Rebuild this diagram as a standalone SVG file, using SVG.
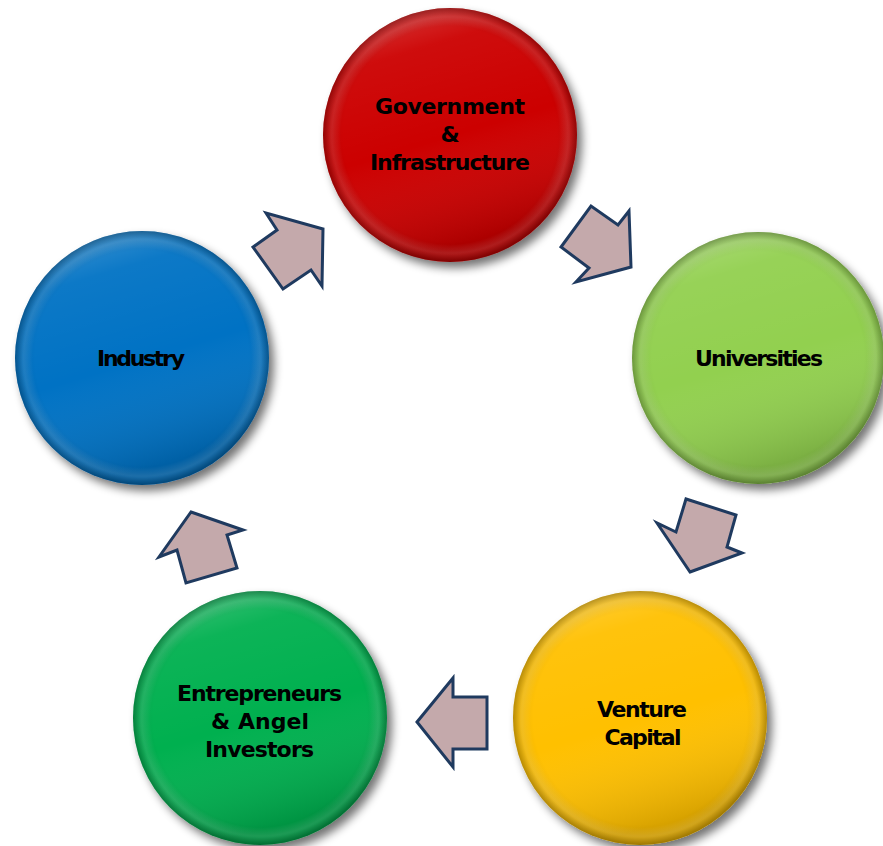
<svg xmlns="http://www.w3.org/2000/svg" width="883" height="846" viewBox="0 0 883 846">
<defs>
<filter id="sh" x="-20%" y="-20%" width="150%" height="150%">
<feGaussianBlur in="SourceAlpha" stdDeviation="5"/>
<feOffset dx="5" dy="6" result="b"/>
<feComponentTransfer><feFuncA type="linear" slope="0.55"/></feComponentTransfer>
<feMerge><feMergeNode/><feMergeNode in="SourceGraphic"/></feMerge>
</filter>
<radialGradient id="edge" cx="50%" cy="50%" r="50%">
<stop offset="0.84" stop-color="#000" stop-opacity="0"/>
<stop offset="0.94" stop-color="#000" stop-opacity="0.06"/>
<stop offset="1" stop-color="#000" stop-opacity="0.28"/>
</radialGradient>
<linearGradient id="bevel" x1="0" y1="0" x2="0.3" y2="1">
<stop offset="0" stop-color="#fff" stop-opacity="0.3"/>
<stop offset="0.25" stop-color="#fff" stop-opacity="0.05"/>
<stop offset="0.6" stop-color="#fff" stop-opacity="0"/>
<stop offset="1" stop-color="#000" stop-opacity="0.15"/>
</linearGradient>
<radialGradient id="inner" cx="50%" cy="50%" r="50%">
<stop offset="0.86" stop-color="#fff" stop-opacity="0"/>
<stop offset="0.93" stop-color="#fff" stop-opacity="0.12"/>
<stop offset="1" stop-color="#fff" stop-opacity="0"/>
</radialGradient>
</defs>
<style>
.lbl{font-family:"DejaVu Sans","Liberation Sans",Arial,sans-serif;font-weight:bold;font-size:22px;fill:#000;text-anchor:middle}
.arr{fill:#c4a9ab;stroke:#1f3a5f;stroke-width:3;stroke-linejoin:miter}
.ov1{fill:url(#edge)}
.ov2{fill:url(#bevel)}
.ov3{fill:url(#inner)}
</style>
<rect width="883" height="846" fill="#fff"/>
<g id="connectors">
<polygon class="arr" points="323,229 266,213 277,230 253,247 283,289 311,270 322,286"/>
<polygon class="arr" points="631,267 629,211 618,225 591,206 561,247 589,268 576,282"/>
<polygon class="arr" points="690,572 742,553 727,547 736,515 686,499 676,532 657,523"/>
<polygon class="arr" points="417,722 453,678 453,697 487,697 487,749 453,749 453,767"/>
<polygon class="arr" points="191,512 243,530 227,535 237,568 186,583 177,550 159,557"/>
</g>
<g id="government">
<circle cx="450" cy="135" r="127" fill="#cc0606" filter="url(#sh)"/>
<circle cx="450" cy="135" r="127" class="ov2"/>
<circle cx="450" cy="135" r="127" class="ov3"/>
<circle cx="450" cy="135" r="127" class="ov1"/>
<text class="lbl" x="450" y="114" textLength="150" lengthAdjust="spacing">Government</text>
<text class="lbl" x="450" y="142">&amp;</text>
<text class="lbl" x="450" y="170" textLength="160" lengthAdjust="spacing">Infrastructure</text>
</g>
<g id="universities">
<circle cx="758" cy="358" r="126" fill="#92d050" filter="url(#sh)"/>
<circle cx="758" cy="358" r="126" class="ov2"/>
<circle cx="758" cy="358" r="126" class="ov3"/>
<circle cx="758" cy="358" r="126" class="ov1"/>
<text class="lbl" x="759" y="366" textLength="128" lengthAdjust="spacing">Universities</text>
</g>
<g id="venture">
<circle cx="640" cy="718" r="127" fill="#ffc000" filter="url(#sh)"/>
<circle cx="640" cy="718" r="127" class="ov2"/>
<circle cx="640" cy="718" r="127" class="ov3"/>
<circle cx="640" cy="718" r="127" class="ov1"/>
<text class="lbl" x="642" y="717" textLength="90" lengthAdjust="spacing">Venture</text>
<text class="lbl" x="643" y="745" textLength="77" lengthAdjust="spacing">Capital</text>
</g>
<g id="entrepreneurs">
<circle cx="260" cy="718" r="127" fill="#00b050" filter="url(#sh)"/>
<circle cx="260" cy="718" r="127" class="ov2"/>
<circle cx="260" cy="718" r="127" class="ov3"/>
<circle cx="260" cy="718" r="127" class="ov1"/>
<text class="lbl" x="259.5" y="701" textLength="165" lengthAdjust="spacing">Entrepreneurs</text>
<text class="lbl" x="260" y="729" textLength="98" lengthAdjust="spacing">&amp; Angel</text>
<text class="lbl" x="259.5" y="757" textLength="109" lengthAdjust="spacing">Investors</text>
</g>
<g id="industry">
<circle cx="142" cy="358" r="127" fill="#0672c4" filter="url(#sh)"/>
<circle cx="142" cy="358" r="127" class="ov2"/>
<circle cx="142" cy="358" r="127" class="ov3"/>
<circle cx="142" cy="358" r="127" class="ov1"/>
<text class="lbl" x="141" y="366" textLength="88" lengthAdjust="spacing">Industry</text>
</g>
</svg>
